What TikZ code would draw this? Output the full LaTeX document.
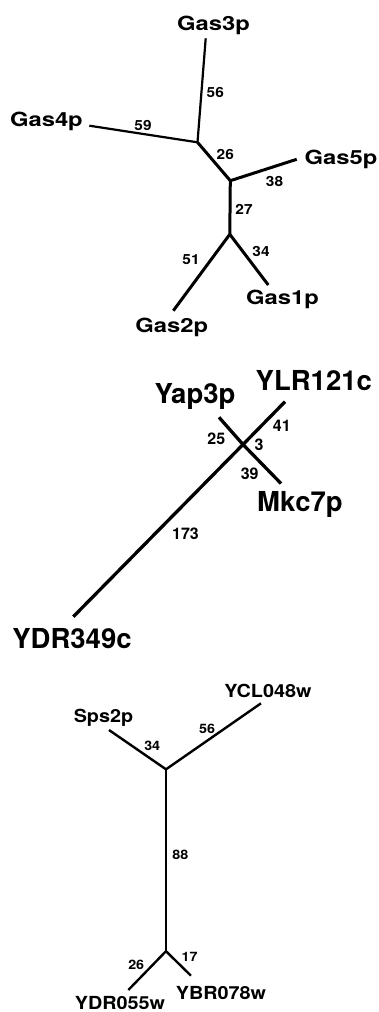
\documentclass[tikz,border=0pt]{standalone}
\usepackage{fontspec}
\setmainfont{TeX Gyre Heros}
\newfontfamily\heroswide[FakeStretch=1.22]{TeX Gyre Heros}
\newfontfamily\herosmid[FakeStretch=1.1]{TeX Gyre Heros}
\begin{document}
\begin{tikzpicture}[x=1pt,y=-1pt,
  taxonA/.style={font=\heroswide\bfseries\fontsize{19.5}{20}\selectfont, anchor=base, inner sep=0pt},
  lenA/.style={font=\herosmid\bfseries\fontsize{14}{14}\selectfont, inner sep=0pt},
  taxonB/.style={font=\bfseries\fontsize{27.5}{28}\selectfont, anchor=base, inner sep=0pt},
  lenB/.style={font=\bfseries\fontsize{16}{16}\selectfont, inner sep=0pt},
  taxonC/.style={font=\herosmid\bfseries\fontsize{18}{18}\selectfont, anchor=base, inner sep=0pt},
  lenC/.style={font=\herosmid\bfseries\fontsize{13}{13}\selectfont, inner sep=0pt},
  thinbranch/.style={line width=2.2pt},
  thickbranch/.style={line width=3pt},
  branchB/.style={line width=3.3pt},
  branchC/.style={line width=2.4pt}]
\useasboundingbox (0,0) rectangle (379,1012);

% ---------- Gas family tree ----------
\coordinate (g3) at (205.7,38.3);
\coordinate (g4) at (89.3,125.7);
\coordinate (ja) at (197.5,142.3);
\coordinate (jb) at (230.3,180.7);
\coordinate (g5) at (296.7,159.3);
\coordinate (jc) at (229.8,234.3);
\coordinate (g1) at (268.3,285);
\coordinate (g2) at (173.3,310.7);
\draw[thinbranch] (g3) -- (ja);
\draw[thinbranch] (g4) -- (ja);
\draw[thickbranch] (ja) -- (jb);
\draw[thickbranch] (jb) -- (g5);
\draw[thickbranch] (jb) -- (jc);
\draw[thickbranch] (jc) -- (g1);
\draw[thickbranch] (jc) -- (g2);
\node[taxonA] (t3) at (213.5,30.7) {Gas3p};
\node[taxonA] (t4) at (46.4,126.7) {Gas4p};
\node[taxonA] (t5) at (341,164) {Gas5p};
\node[taxonA] (t1) at (282.5,304) {Gas1p};
\node[taxonA] (t2) at (171.7,332) {Gas2p};
\node[lenA] (l56) at (215.3,92.5) {56};
\node[lenA] (l59) at (143,125) {59};
\node[lenA] (l26) at (225.3,154.7) {26};
\node[lenA] (l38) at (274.5,181.7) {38};
\node[lenA] (l27) at (244,209) {27};
\node[lenA] (l34) at (261,251.7) {34};
\node[lenA] (l51) at (191,259.5) {51};

% ---------- Yap3p / YLR121c tree ----------
\coordinate (jx) at (243,444.5);
\coordinate (ylr) at (285,401.7);
\coordinate (yap) at (219,417.3);
\coordinate (mkc) at (281,483.5);
\coordinate (ydr) at (73.3,616.7);
\draw[branchB] (ydr) -- (jx) -- (ylr);
\draw[branchB] (yap) -- (jx) -- (mkc);
\node[taxonB] (tylr) at (313.8,390) {YLR121c};
\node[taxonB] (tyap) at (195,403.3) {Yap3p};
\node[taxonB] (tmkc) at (300,511.7) {Mkc7p};
\node[taxonB] (tydr) at (72,648.3) {YDR349c};
\node[lenB] (l25) at (216.3,438.3) {25};
\node[lenB] (l3) at (259,445) {3};
\node[lenB] (l41) at (281.8,425.8) {41};
\node[lenB] (l39) at (249.7,473.7) {39};
\node[lenB] (l173) at (185.5,534.2) {173};

% ---------- Sps2p / YCL048w tree ----------
\coordinate (jt) at (166,769.3);
\coordinate (ycl) at (261,703.3);
\coordinate (sps) at (109,730);
\coordinate (ju) at (166,951.2);
\coordinate (ydw) at (128.3,990);
\coordinate (ybr) at (191,975.7);
\draw[branchC] (sps) -- (jt) -- (ycl);
\draw[branchC] (jt) -- (ju);
\draw[branchC] (ydw) -- (ju) -- (ybr);
\node[taxonC] (tycl) at (268,697.5) {YCL048w};
\node[taxonC] (tsps) at (103.5,722.3) {Sps2p};
\node[taxonC] (tybr) at (221,999) {YBR078w};
\node[taxonC] (tydw) at (120,1009.8) {YDR055w};
\node[lenC] (m34) at (152.2,746) {34};
\node[lenC] (m56) at (207,729) {56};
\node[lenC] (m88) at (180.3,855.3) {88};
\node[lenC] (m26) at (136.2,965) {26};
\node[lenC] (m17) at (189.5,956.7) {17};
\end{tikzpicture}
\end{document}
